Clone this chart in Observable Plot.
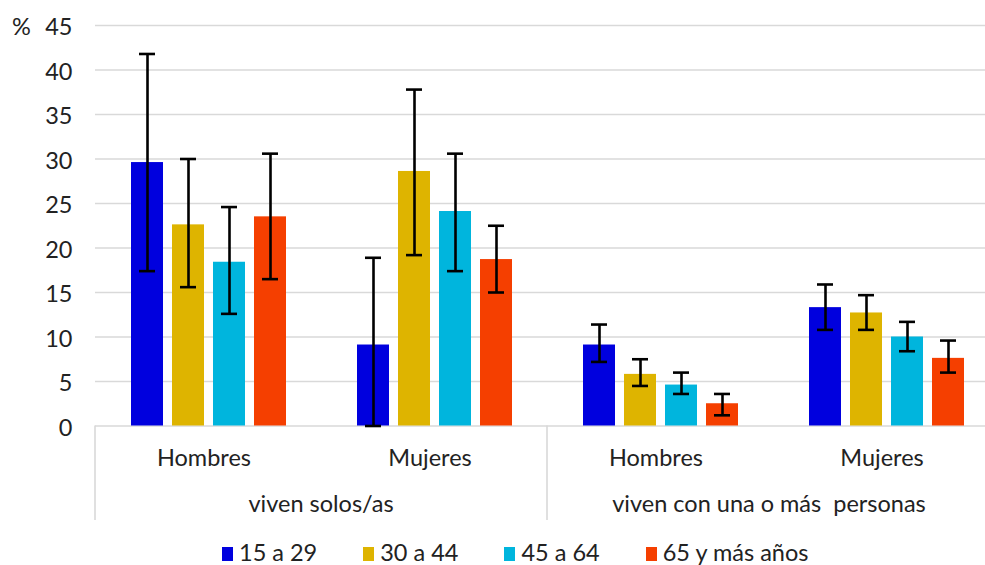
<!DOCTYPE html>
<html>
<head>
<meta charset="utf-8">
<script src="https://cdn.jsdelivr.net/npm/d3@7"></script>
<script src="https://cdn.jsdelivr.net/npm/@observablehq/plot@0.6"></script>
<style>
  html, body { margin: 0; padding: 0; background: #fff; overflow: hidden; }
  body { width: 985px; height: 565px; font-family: Lato, sans-serif; color: #222; }
  #chart svg { display: block; }
  #legend { height: 35px; box-sizing: border-box; padding-top: 11px; padding-left: 222px;
            font-size: 23.5px; line-height: 22px; white-space: nowrap; }
  .item { display: inline-block; margin-right: 46px; }
  .sw { display: inline-block; width: 11px; height: 14px; margin-right: 6px; vertical-align: baseline; }
</style>
</head>
<body>
<div id="chart"></div>
<div id="legend"></div>
<script>
// ---- data ----
const livingGroups = ["viven solos/as", "viven con una o más  personas"];
const sexes = ["Hombres", "Mujeres"];
const ages = ["15 a 29", "30 a 44", "45 a 64", "65 y más años"];
const colors = ["#0000DE", "#DEB400", "#00B5DD", "#F53F00"];
const yTicks = [0, 5, 10, 15, 20, 25, 30, 35, 40, 45];

// order of values: solos/Hombres, solos/Mujeres, con/Hombres, con/Mujeres
const val15_29 = [29.6, 9.1, 9.1, 13.3];
const val30_44 = [22.6, 28.6, 5.8, 12.7];
const val45_64 = [18.4, 24.1, 4.6, 10.0];
const val65 = [23.5, 18.7, 2.5, 7.6];

const lo15_29 = [17.4, 0.0, 7.2, 10.8];
const hi15_29 = [41.8, 18.9, 11.4, 15.9];
const lo30_44 = [15.6, 19.2, 4.5, 10.8];
const hi30_44 = [30.0, 37.8, 7.5, 14.7];
const lo45_64 = [12.6, 17.4, 3.6, 8.4];
const hi45_64 = [24.6, 30.6, 6.0, 11.7];
const lo65 = [16.5, 15.0, 1.2, 6.0];
const hi65 = [30.6, 22.5, 3.6, 9.6];

// ---- table ----
const vals = [val15_29, val30_44, val45_64, val65];
const los = [lo15_29, lo30_44, lo45_64, lo65];
const his = [hi15_29, hi30_44, hi45_64, hi65];
const groupKeys = [];
livingGroups.forEach(g => sexes.forEach(s => groupKeys.push(g + "|" + s)));
const rows = [];
ages.forEach((a, ai) => groupKeys.forEach((k, gi) => {
  rows.push({age: a, group: k, value: vals[ai][gi], lo: los[ai][gi], hi: his[ai][gi]});
}));

const FS = 23.5;
const plot = Plot.plot({
  width: 985,
  height: 530,
  marginTop: 25,
  marginBottom: 104.5,
  marginLeft: 93,
  marginRight: -15,
  style: {fontFamily: "Lato, sans-serif", fontSize: FS + "px", color: "#222", background: "#fff"},
  fx: {domain: groupKeys, paddingInner: 0, paddingOuter: 0, label: null},
  x: {domain: ages, paddingInner: 0.225, paddingOuter: 0.85, axis: null},
  y: {domain: [0, 45], label: null},
  color: {domain: ages, range: colors},
  marks: [
    Plot.ruleY(yTicks, {stroke: "#d9d9d9", strokeWidth: 1.6}),
    Plot.barY(rows, {fx: "group", x: "age", y: "value", fill: "age"}),
    Plot.ruleX(rows, {fx: "group", x: "age", y1: "lo", y2: "hi", stroke: "#000", strokeWidth: 2.6}),
    Plot.tickY(rows, {fx: "group", x: "age", y: "lo", stroke: "#000", strokeWidth: 2.6, insetLeft: 8, insetRight: 8}),
    Plot.tickY(rows, {fx: "group", x: "age", y: "hi", stroke: "#000", strokeWidth: 2.6, insetLeft: 8, insetRight: 8}),
    Plot.axisY({ticks: yTicks, tickSize: 0, tickPadding: 23, label: null, fontSize: FS, dy: 2, fill: "#222"}),
    Plot.axisFx({anchor: "bottom", tickSize: 0, tickPadding: 23, label: null, fontSize: FS, fill: "#222", dx: -4.5,
                 tickFormat: d => d.split("|")[1]})
  ]
});
document.getElementById("chart").appendChild(plot);

// ---- decorations placed through the plot's scales ----
const svg = d3.select(plot);
const fxS = plot.scale("fx");
const yS = plot.scale("y");
const fxBw = fxS.bandwidth;
const fxPos = k => fxS.apply(k);
const y0 = yS.apply(0);
const sepBottom = 530 - 10;
const deco = svg.append("g");
[groupKeys[0], groupKeys[2]].forEach(k => {
  deco.append("line").attr("x1", fxPos(k)).attr("x2", fxPos(k))
    .attr("y1", y0).attr("y2", sepBottom)
    .attr("stroke", "#d9d9d9").attr("stroke-width", 1.6);
});
deco.append("line").attr("x1", fxPos(groupKeys[3]) + fxBw).attr("x2", fxPos(groupKeys[3]) + fxBw)
  .attr("y1", y0).attr("y2", sepBottom).attr("stroke", "#d9d9d9").attr("stroke-width", 1.6);
const outerShift = [0, -4];
livingGroups.forEach((g, i) => {
  const a = fxPos(groupKeys[i * 2]);
  const b = fxPos(groupKeys[i * 2 + 1]) + fxBw;
  deco.append("text").attr("x", (a + b) / 2 + outerShift[i]).attr("y", y0 + 86.5)
    .attr("text-anchor", "middle").attr("fill", "#222")
    .style("font", FS + "px Lato, sans-serif").style("white-space", "pre").text(g);
});
deco.append("text").attr("x", 12).attr("y", yS.apply(45)).attr("dy", 10)
  .attr("text-anchor", "start")
  .attr("fill", "#222").style("font", FS + "px Lato, sans-serif").text("%");

// ---- legend ----
const legend = d3.select("#legend");
ages.forEach((a, i) => {
  const it = legend.append("span").attr("class", "item");
  it.append("span").attr("class", "sw").style("background", colors[i]);
  it.append("span").text(a);
});
</script>
</body>
</html>
